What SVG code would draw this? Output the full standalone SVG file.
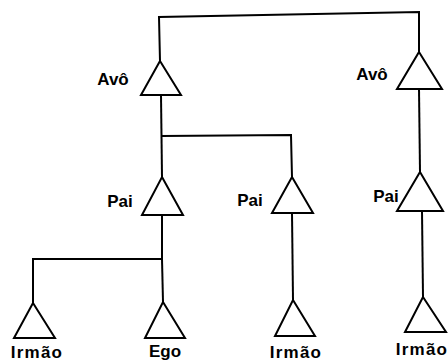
<svg xmlns="http://www.w3.org/2000/svg" width="448" height="363" viewBox="0 0 448 363">
  <style>
    .tri { fill: #ffffff; stroke: #000000; stroke-width: 2; stroke-linejoin: miter; }
    .edge { fill: none; stroke: #000000; stroke-width: 2; }
    .lbl { font-family: "Liberation Sans", "DejaVu Sans", Arial, sans-serif; font-weight: bold; font-size: 17px; fill: #000000; text-anchor: middle; }
    .wide { letter-spacing: 1.2px; }
  </style>
  <rect width="448" height="363" fill="#ffffff"/>

  <!-- lines of descent and sibling links -->
  <g id="connectors">
    <polyline class="edge" points="160,61 159,17 419,12 419,52"/>
    <line class="edge" x1="161" y1="95" x2="162" y2="177"/>
    <polyline class="edge" points="161,136 291,135 292,177"/>
    <line class="edge" x1="419" y1="89" x2="420" y2="172"/>
    <polyline class="edge" points="162,215 162,259 33,259 33,303"/>
    <line class="edge" x1="162" y1="259" x2="163" y2="302"/>
    <line class="edge" x1="292" y1="213" x2="293" y2="300"/>
    <line class="edge" x1="422" y1="211" x2="423" y2="297"/>
  </g>

  <g id="avo-left">
    <polygon class="tri" points="160,61 181,95 141,95"/>
    <text class="lbl" x="113" y="85">Avô</text>
  </g>
  <g id="avo-right">
    <polygon class="tri" points="419,52 442,89 397,89"/>
    <text class="lbl" x="372" y="80">Avô</text>
  </g>
  <g id="pai-left">
    <polygon class="tri" points="162,177 183,215 142,215"/>
    <text class="lbl" x="120" y="207">Pai</text>
  </g>
  <g id="pai-middle">
    <polygon class="tri" points="292,177 313,213 272,213"/>
    <text class="lbl" x="250" y="206">Pai</text>
  </g>
  <g id="pai-right">
    <polygon class="tri" points="420,172 443,211 397,211"/>
    <text class="lbl" x="386" y="202">Pai</text>
  </g>
  <g id="irmao-left">
    <polygon class="tri" points="33,303 55,338 14,338"/>
    <text class="lbl wide" x="37" y="358">Irmão</text>
  </g>
  <g id="ego">
    <polygon class="tri" points="163,302 185,338 145,338"/>
    <text class="lbl" x="165" y="357">Ego</text>
  </g>
  <g id="irmao-middle">
    <polygon class="tri" points="293,300 315,336 275,336"/>
    <text class="lbl wide" x="296" y="358">Irmão</text>
  </g>
  <g id="irmao-right">
    <polygon class="tri" points="423,297 446,332 405,332"/>
    <text class="lbl wide" x="422" y="355">Irmão</text>
  </g>
</svg>
